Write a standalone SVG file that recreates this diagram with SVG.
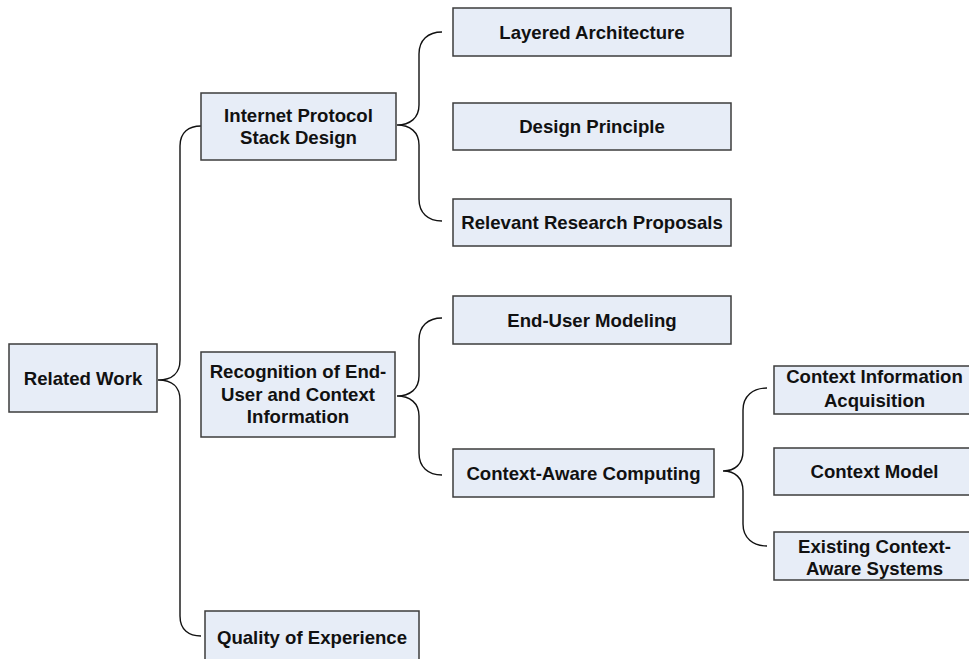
<svg xmlns="http://www.w3.org/2000/svg" width="969" height="659" viewBox="0 0 969 659">
  <style>
    .box { fill: #e7edf7; stroke: #3c3c3c; stroke-width: 1.5; }
    .lbl { font-family: "Liberation Sans", Arial, sans-serif; font-weight: bold; font-size: 18.6px; fill: #111; text-anchor: middle; }
    .brace { fill: none; stroke: #111; stroke-width: 1.4; }
  </style>
  <rect width="969" height="659" fill="#ffffff"/>

  <!-- braces linking each parent to its children -->
  <g id="connectors">
    <path class="brace" d="M201,126 C189,126 180,132 180,146 L180,360 C180,373 172,380 158,380 C172,380 180,387 180,400 L180,616 C180,630 189,636 201,636"/>
    <path class="brace" d="M442,32 C428,32 419,40 419,54 L419,105 C419,118 410,125 397,125 C410,125 419,132 419,145 L419,199 C419,213 428,221 442,221"/>
    <path class="brace" d="M442,318 C428,318 419,326 419,340 L419,376 C419,389 410,396 397,396 C410,396 419,403 419,416 L419,453 C419,467 428,475 442,475"/>
    <path class="brace" d="M767,388 C753,388 743,396 743,410 L743,451 C743,464 735,471 723,471 C735,471 743,478 743,491 L743,524 C743,538 753,546 767,546"/>
  </g>

  <g id="related-work">
    <rect class="box" x="9" y="344" width="148" height="68"/>
    <text class="lbl" x="83" y="384.5">Related Work</text>
  </g>

  <g id="internet-protocol-stack-design">
    <rect class="box" x="201" y="93" width="195" height="67"/>
    <text class="lbl" x="298.5" y="122">Internet Protocol</text>
    <text class="lbl" x="298.5" y="144">Stack Design</text>
  </g>

  <g id="recognition">
    <rect class="box" x="201" y="352" width="194" height="85"/>
    <text class="lbl" x="298" y="378">Recognition of End-</text>
    <text class="lbl" x="298" y="400.5">User and Context</text>
    <text class="lbl" x="298" y="423">Information</text>
  </g>

  <g id="quality-of-experience">
    <rect class="box" x="205" y="611" width="214" height="54"/>
    <text class="lbl" x="312" y="643.5">Quality of Experience</text>
  </g>

  <g id="layered-architecture">
    <rect class="box" x="453" y="8" width="278" height="48"/>
    <text class="lbl" x="592" y="38.5">Layered Architecture</text>
  </g>

  <g id="design-principle">
    <rect class="box" x="453" y="103" width="278" height="47"/>
    <text class="lbl" x="592" y="133">Design Principle</text>
  </g>

  <g id="relevant-research-proposals">
    <rect class="box" x="453" y="199" width="278" height="47"/>
    <text class="lbl" x="592" y="229">Relevant Research Proposals</text>
  </g>

  <g id="end-user-modeling">
    <rect class="box" x="453" y="296" width="278" height="48"/>
    <text class="lbl" x="592" y="326.5">End-User Modeling</text>
  </g>

  <g id="context-aware-computing">
    <rect class="box" x="453" y="449" width="261" height="48"/>
    <text class="lbl" x="583.5" y="479.5">Context-Aware Computing</text>
  </g>

  <g id="context-information-acquisition">
    <rect class="box" x="774" y="366" width="201" height="48"/>
    <text class="lbl" x="874.5" y="383">Context Information</text>
    <text class="lbl" x="874.5" y="407">Acquisition</text>
  </g>

  <g id="context-model">
    <rect class="box" x="774" y="448" width="201" height="47"/>
    <text class="lbl" x="874.5" y="478">Context Model</text>
  </g>

  <g id="existing-context-aware-systems">
    <rect class="box" x="774" y="532" width="201" height="48"/>
    <text class="lbl" x="874.5" y="553">Existing Context-</text>
    <text class="lbl" x="874.5" y="575">Aware Systems</text>
  </g>
</svg>
